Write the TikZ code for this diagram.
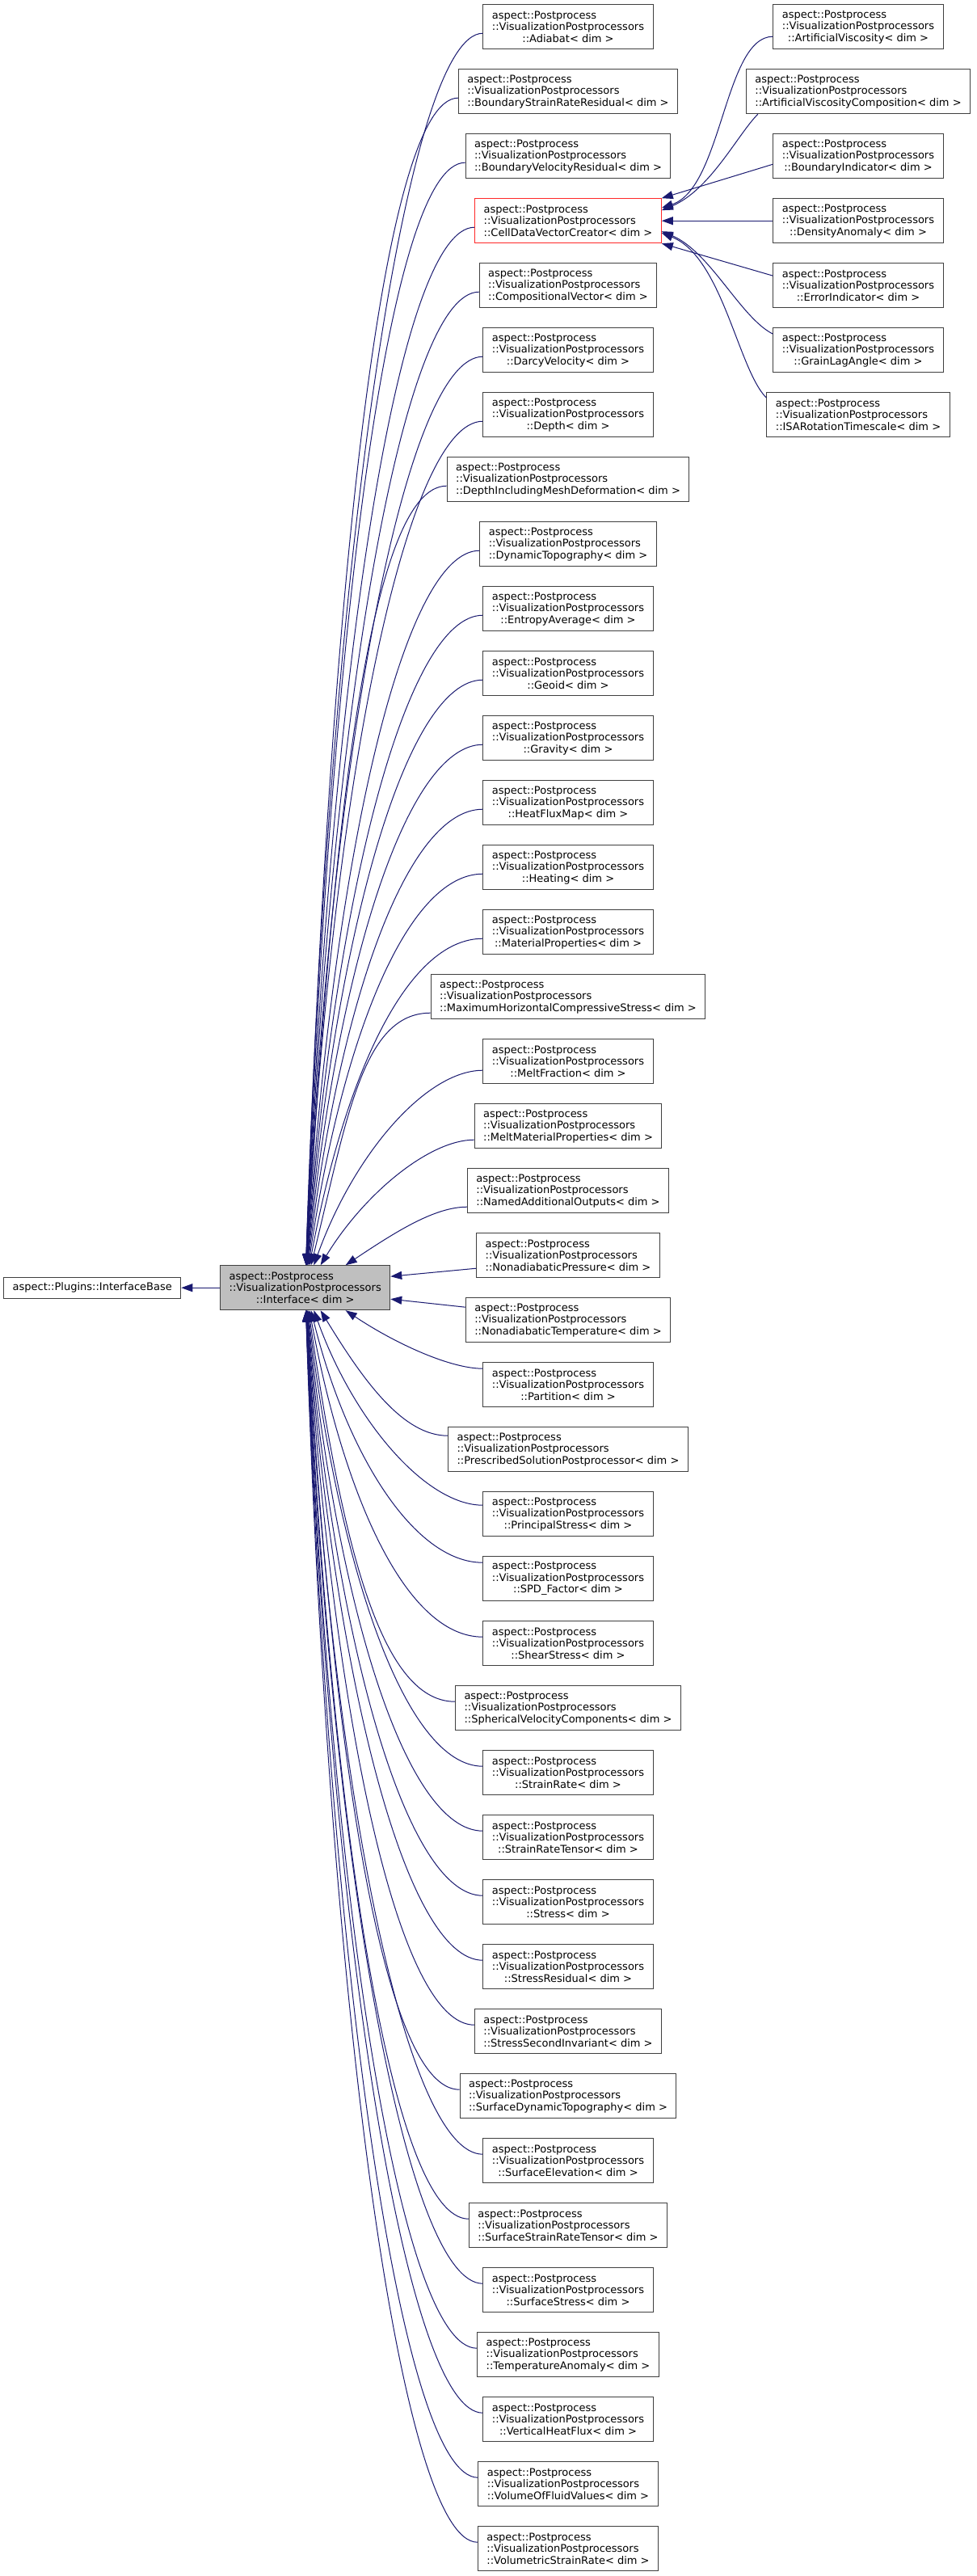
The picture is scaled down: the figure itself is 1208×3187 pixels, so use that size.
\documentclass[tikz,border=0pt]{standalone}
\usepackage{fontspec}
\setmainfont{DejaVu Sans}
\usetikzlibrary{arrows.meta,calc}
\definecolor{edgeblue}{RGB}{25,25,112}
\definecolor{boxgray}{RGB}{64,64,64}
\definecolor{fillgray}{RGB}{191,191,191}
\definecolor{truncred}{RGB}{255,40,40}

\newcommand{\vplabel}[1]{aspect::Postprocess\\::VisualizationPostprocessors\\\hfill::#1< dim >\hfill\mbox{}}

\tikzset{
    classbox/.style={draw=boxgray, fill=white, line width=1pt, inner xsep=11pt, inner ysep=0pt,
        minimum height=55pt, align=left, font=\fontsize{13}{14.5}\selectfont},
    basebox/.style={classbox, minimum height=26pt},
    inherit/.style={edgeblue, line width=1pt, {Triangle[length=14pt,width=10pt]}-}
}

\begin{document}
\begin{tikzpicture}[x=1pt, y=-1pt]
    \path[fill=white, use as bounding box] (0,0) rectangle (1208,3187);

    % Base classes
    \node[basebox] (base) at (114.2,1593.2) {aspect::Plugins::InterfaceBase};
    \node[classbox, fill=fillgray] (intf) at (377.7,1593.2) {\vplabel{Interface}};

    % Derived postprocessors
    \foreach \nm [count=\i from 0] in {Adiabat, BoundaryStrainRateResidual, BoundaryVelocityResidual,
        CellDataVectorCreator, CompositionalVector, DarcyVelocity, Depth, DepthIncludingMeshDeformation,
        DynamicTopography, EntropyAverage, Geoid, Gravity, HeatFluxMap, Heating, MaterialProperties,
        MaximumHorizontalCompressiveStress, MeltFraction, MeltMaterialProperties, NamedAdditionalOutputs,
        NonadiabaticPressure, NonadiabaticTemperature, Partition, PrescribedSolutionPostprocessor,
        PrincipalStress, SPD\_Factor, ShearStress, SphericalVelocityComponents, StrainRate,
        StrainRateTensor, Stress, StressResidual, StressSecondInvariant, SurfaceDynamicTopography,
        SurfaceElevation, SurfaceStrainRateTensor, SurfaceStress, TemperatureAnomaly,
        VerticalHeatFlux, VolumeOfFluidValues, VolumetricStrainRate} {
        \ifnum\i=3 \def\bc{truncred}\else\def\bc{boxgray}\fi
        \node[classbox, draw=\bc] (vp\i) at (703, 33.2+80*\i) {\vplabel{\nm}};
    }

    % Cell data vector creators
    \foreach \nm [count=\i from 0] in {ArtificialViscosity, ArtificialViscosityComposition,
        BoundaryIndicator, DensityAnomaly, ErrorIndicator, GrainLagAngle, ISARotationTimescale} {
        \node[classbox] (cd\i) at (1062, 33.2+80*\i) {\vplabel{\nm}};
    }

    % Inheritance edges
    \draw[inherit] (base.east) -- (intf.west);
    \foreach \i in {0,...,18} {
        \pgfmathtruncatemacro{\k}{19-\i}
        \pgfmathtruncatemacro{\j}{39-\i}
        \pgfmathsetmacro{\ex}{50/(\k^1.4)}
        \pgfmathsetmacro{\d}{\k==1 ? 20 : (\k==2 ? 17 : (\k==3 ? 11 : (\k==4 ? 20 : 8)))}
        \pgfmathsetmacro{\a}{min(95, 25+15*\k)}
        \pgfmathsetmacro{\c}{0.57*(1532.8-80*\i-\d)}
        \pgfmathsetmacro{\b}{\c*1.5/(\k^1.3)}
        \draw[inherit] ([xshift=\ex pt]intf.north) .. controls +(\b,-\c) and +(-\a,0) .. ([yshift=-\d pt]vp\i.west);
        \draw[inherit] ([xshift=\ex pt]intf.south) .. controls +(\b,\c) and +(-\a,0) .. ([yshift=\d pt]vp\j.west);
    }
    \draw[inherit] ([yshift=14pt]intf.east) -- ([yshift=-16pt]vp19.west);
    \draw[inherit] ([yshift=-14pt]intf.east) -- ([yshift=16pt]vp20.west);

    \draw[inherit] ([yshift=16pt]vp3.east) .. controls +(75,-25) and +(-60,0) .. ([yshift=-12pt]cd0.west);
    \draw[inherit] ([yshift=13pt]vp3.east) .. controls +(60,-25) and +(-25,25) .. ([xshift=15pt]cd1.south west);
    \draw[inherit] (vp3.north east) -- ([yshift=-10pt]cd2.west);
    \draw[inherit] (vp3.east) -- (cd3.west);
    \draw[inherit] (vp3.south east) -- ([yshift=12pt]cd4.west);
    \draw[inherit] ([yshift=-13pt]vp3.east) .. controls +(60,25) and +(-40,-20) .. ([yshift=20pt]cd5.west);
    \draw[inherit] ([yshift=-15pt]vp3.east) .. controls +(75,30) and +(-35,-35) .. ([yshift=21pt]cd6.west);
\end{tikzpicture}
\end{document}
